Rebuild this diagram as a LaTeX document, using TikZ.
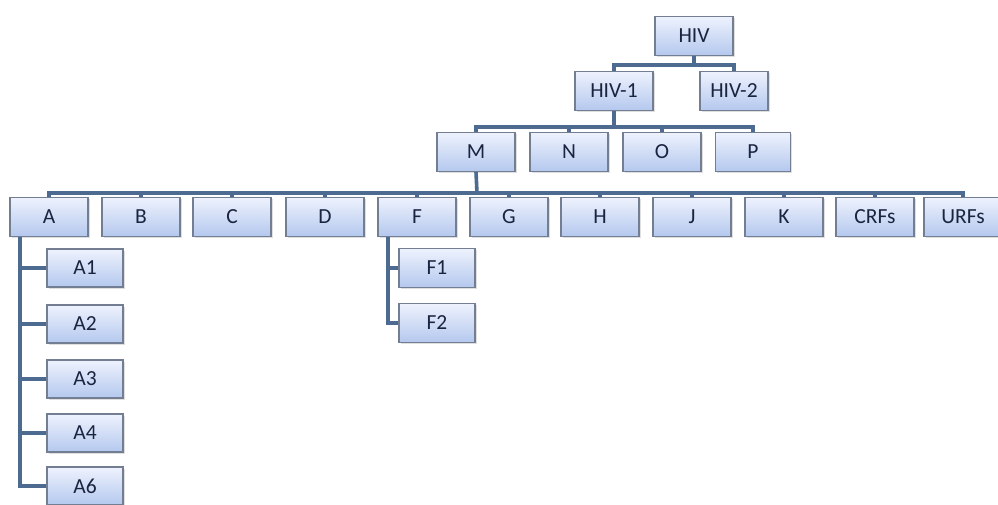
\documentclass[tikz,border=0pt]{standalone}
\usepackage{fontspec}
\setmainfont{Carlito}
\usetikzlibrary{shadows}
\definecolor{boxtop}{HTML}{EEF2FD}
\definecolor{boxbot}{HTML}{B4C8EE}
\definecolor{boxedge}{HTML}{737E92}
\definecolor{conn}{HTML}{4D6B90}
\definecolor{txt}{HTML}{1A2440}
\tikzset{
  tbox/.style={draw=boxedge, line width=1.2pt, top color=boxtop, bottom color=boxbot,
    minimum width=78pt, minimum height=39pt, inner sep=0pt, text=txt,
    font=\fontsize{21.5}{21.5}\selectfont,
    drop shadow={shadow xshift=1.5pt, shadow yshift=-1.5pt, opacity=0.25}},
  link/.style={draw=conn, line width=3.6pt}
}
\begin{document}
\begin{tikzpicture}[x=1pt,y=-1pt]
\useasboundingbox[fill=white] (0,0) rectangle (998,505);
% level 0/1
\node[tbox] (hiv) at (694,36) {HIV};
\node[tbox] (hiv1) at (614,91) {HIV-1};
\node[tbox, minimum width=68pt] (hiv2) at (734,91) {HIV-2};
% level 2
\node[tbox] (m) at (476,152) {M};
\node[tbox] (n) at (569,152) {N};
\node[tbox] (o) at (662,152) {O};
\node[tbox, minimum width=75pt] (p) at (753,152) {P};
% level 3
\foreach \n/\t/\x in {a/A/49, b/B/141, c/C/232, d/D/325, f/F/417, g/G/509, h/H/600, j/J/692, k/K/784, crfs/CRFs/875, urfs/URFs/963}
  \node[tbox] (\n) at (\x,217) {\t};
% A children
\foreach \n/\t/\y in {a1/A1/268, a2/A2/324, a3/A3/379, a4/A4/433, a6/A6/486}
  \node[tbox, minimum width=76pt, minimum height=38pt] (\n) at (85,\y) {\t};
% F children
\foreach \n/\t/\y in {f1/F1/268, f2/F2/323}
  \node[tbox, minimum width=76pt, minimum height=39pt] (\n) at (437,\y) {\t};
% connectors
\coordinate (jh) at (694,65);
\draw[link] (hiv.south) -- (jh);
\draw[link] (hiv1.north) |- (jh) -| (hiv2.north);
\coordinate (jm) at (614,127);
\draw[link] (hiv1.south) -- (jm);
\foreach \n in {m,n,o,p} \draw[link] (jm) -| (\n.north);
\coordinate (js) at (477,193);
\draw[link] (m.south) -- (js);
\foreach \n in {a,b,c,d,f,g,h,j,k,crfs,urfs} \draw[link] (js) -| (\n.north);
\coordinate (av) at (20,237);
\foreach \n in {a1,a2,a3,a4,a6} \draw[link] (\n.west) -| (av);
\coordinate (fv) at (388,237);
\foreach \n in {f1,f2} \draw[link] (\n.west) -| (fv);
\end{tikzpicture}
\end{document}
